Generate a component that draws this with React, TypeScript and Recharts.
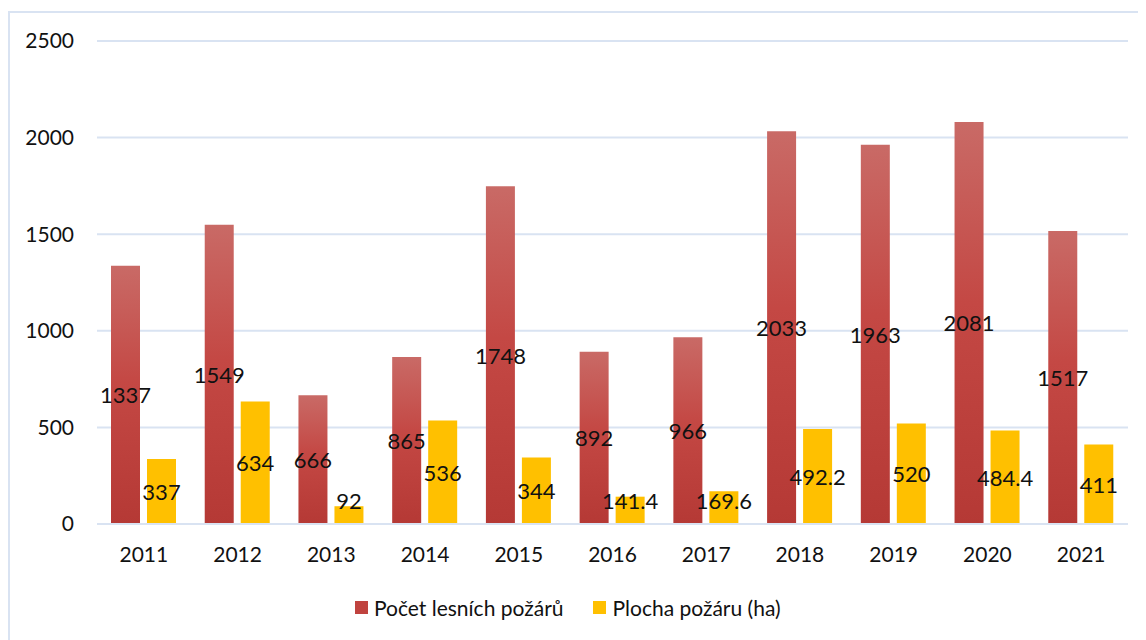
import React from 'react';
import { BarChart, Bar, XAxis, YAxis, CartesianGrid, Legend, LabelList } from 'recharts';

const years = ['2011', '2012', '2013', '2014', '2015', '2016', '2017', '2018', '2019', '2020', '2021'];
const pocetPozaru = [1337, 1549, 666, 865, 1748, 892, 966, 2033, 1963, 2081, 1517];
const plochaPozaru = [337, 634, 92, 536, 344, 141.4, 169.6, 492.2, 520, 484.4, 411];
const yTicks = [0, 500, 1000, 1500, 2000, 2500];

const SERIES_A = 'Počet lesních požárů';
const SERIES_B = 'Plocha požáru (ha)';

const data = years.map((y, i) => ({ year: y, a: pocetPozaru[i], b: plochaPozaru[i] }));

const FONT = 'Lato, "Open Sans", sans-serif';
const GRID = '#d9e3f2';

const CenterLabel = (props: any) => {
  const { x, y, width, height, value } = props;
  const bottom = y + height;
  const cy = Math.min(y + height / 2, bottom - 24);
  return (
    <text
      x={x + width / 2}
      y={cy}
      textAnchor="middle"
      dominantBaseline="central"
      fontFamily={FONT}
      fontSize={22}
      fill="#111"
    >
      {String(value)}
    </text>
  );
};

const LegendContent = () => (
  <div style={{ display: 'flex', alignItems: 'center', height: 24, fontFamily: FONT, fontSize: 21, color: '#111', whiteSpace: 'nowrap' }}>
    <span style={{ width: 13, height: 13, background: '#c0433f', display: 'inline-block', marginRight: 6 }} />
    <span style={{ marginRight: 30 }}>{SERIES_A}</span>
    <span style={{ width: 13, height: 13, background: '#ffc000', display: 'inline-block', marginRight: 6 }} />
    <span>{SERIES_B}</span>
  </div>
);

export default function App() {
  return (
    <div style={{ position: 'relative', width: 1138, height: 632 }}>
      <div
        style={{
          position: 'absolute',
          left: 0,
          top: 3,
          width: 1138,
          height: 629,
          borderLeft: `2px solid ${GRID}`,
          borderTop: `2px solid ${GRID}`,
          boxSizing: 'border-box',
        }}
      />
      <div style={{ position: 'absolute', left: 0, top: 0 }}>
        <BarChart
          width={1138}
          height={632}
          data={data}
          margin={{ top: 33, right: 18, bottom: 21, left: 0 }}
          barSize={29}
          barGap={7}
        >
          <defs>
            <linearGradient id="redGrad" x1="0" y1="0" x2="0" y2="1">
              <stop offset="0%" stopColor="#c96a66" />
              <stop offset="45%" stopColor="#c44844" />
              <stop offset="100%" stopColor="#b53935" />
            </linearGradient>
          </defs>
          <CartesianGrid vertical={false} stroke={GRID} strokeWidth={2} />
          <XAxis
            dataKey="year"
            axisLine={{ stroke: GRID, strokeWidth: 2 }}
            tickLine={false}
            tickSize={0}
            tickMargin={23}
            height={71}
            tick={{ fontFamily: FONT, fontSize: 21, fill: '#111' }}
            interval={0}
          />
          <YAxis
            domain={[0, 2500]}
            ticks={yTicks}
            axisLine={false}
            tickLine={false}
            tickSize={0}
            tickMargin={23}
            width={89}
            tick={{ fontFamily: FONT, fontSize: 21, fill: '#111' }}
          />
          <Legend
            verticalAlign="bottom"
            align="left"
            content={<LegendContent />}
            wrapperStyle={{ left: 347, width: 'auto' }}
          />
          <Bar dataKey="a" name={SERIES_A} fill="url(#redGrad)" isAnimationActive={false}>
            <LabelList dataKey="a" content={<CenterLabel />} />
          </Bar>
          <Bar dataKey="b" name={SERIES_B} fill="#ffc000" isAnimationActive={false}>
            <LabelList dataKey="b" content={<CenterLabel />} />
          </Bar>
        </BarChart>
      </div>
    </div>
  );
}
